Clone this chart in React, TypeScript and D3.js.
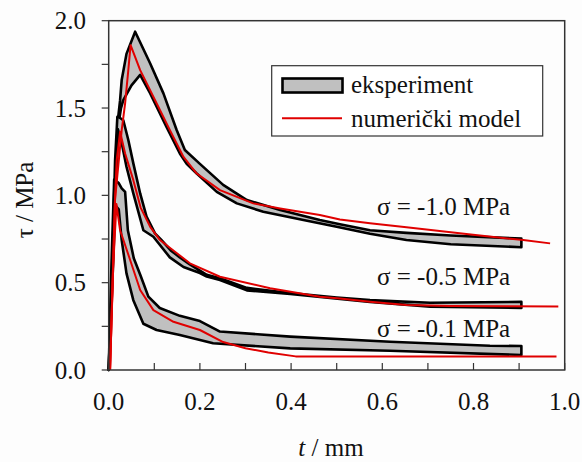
import React from 'react';
import * as d3 from 'd3';

type P = [number, number];

const W = 582, H = 462;
const PLOT = { left: 108.7, right: 564.7, top: 20.7, bottom: 370 };

const xMajorTicks = [0, 0.2, 0.4, 0.6, 0.8, 1.0];
const xMinorTicks = [0, 0.1, 0.2, 0.3, 0.4, 0.5, 0.6, 0.7, 0.8, 0.9, 1.0];
const yMajorTicks = [0, 0.5, 1.0, 1.5, 2.0];
const yMinorTicks = [0, 0.25, 0.5, 0.75, 1.0, 1.25, 1.5, 1.75, 2.0];

// experimental bands (upper and lower bounds)
const exp10Upper: P[] = [[0,0],[0.008,0.55],[0.016,1.1],[0.021,1.45],[0.025,1.545],[0.0285,1.66],[0.039,1.81],[0.058,1.937],[0.091,1.755],[0.12,1.584],[0.149,1.374],[0.167,1.26],[0.2,1.18],[0.251,1.06],[0.303,0.973],[0.376,0.916],[0.463,0.859],[0.507,0.835],[0.573,0.80],[0.653,0.785],[0.75,0.77],[0.905,0.752]];
const exp10Lower: P[] = [[0,0],[0.008,0.5],[0.016,1.05],[0.021,1.4],[0.027,1.5],[0.032,1.545],[0.05,1.63],[0.069,1.69],[0.091,1.584],[0.127,1.39],[0.156,1.24],[0.171,1.18],[0.193,1.125],[0.237,1.02],[0.281,0.954],[0.339,0.906],[0.427,0.859],[0.5,0.82],[0.573,0.78],[0.653,0.744],[0.75,0.72],[0.905,0.703]];

const exp05Upper: P[] = [[0,0],[0.008,0.6],[0.014,1.2],[0.019,1.45],[0.021,1.45],[0.032,1.43],[0.043,1.317],[0.054,1.183],[0.069,1.011],[0.083,0.878],[0.1015,0.782],[0.116,0.744],[0.136,0.685],[0.156,0.645],[0.178,0.605],[0.215,0.545],[0.244,0.525],[0.303,0.47],[0.398,0.44],[0.5,0.415],[0.573,0.40],[0.705,0.385],[0.905,0.39]];
const exp05Lower: P[] = [[0,0],[0.008,0.55],[0.014,1.1],[0.02,1.38],[0.0285,1.30],[0.039,1.164],[0.054,1.011],[0.076,0.80],[0.098,0.763],[0.134,0.645],[0.164,0.59],[0.2,0.555],[0.215,0.535],[0.244,0.515],[0.303,0.456],[0.398,0.435],[0.573,0.39],[0.705,0.363],[0.905,0.355]];

const exp01Upper: P[] = [[0,0],[0.006,0.6],[0.012,1.09],[0.022,1.07],[0.0285,1.04],[0.036,1.02],[0.042,0.80],[0.055,0.64],[0.07,0.54],[0.087,0.42],[0.112,0.355],[0.156,0.31],[0.2,0.28],[0.244,0.22],[0.398,0.191],[0.617,0.162],[0.836,0.139],[0.905,0.137]];
const exp01Lower: P[] = [[0,0],[0.006,0.5],[0.012,0.95],[0.022,0.92],[0.0285,0.744],[0.039,0.553],[0.054,0.40],[0.076,0.265],[0.105,0.229],[0.156,0.20],[0.229,0.153],[0.398,0.124],[0.617,0.11],[0.905,0.086]];

// numerical model
const model10: P[] = [[0.003,0],[0.0138,0.973],[0.0285,1.374],[0.036,1.527],[0.043,1.717],[0.048,1.86],[0.069,1.717],[0.105,1.527],[0.134,1.374],[0.164,1.22],[0.193,1.125],[0.244,1.03],[0.317,0.954],[0.376,0.925],[0.463,0.887],[0.507,0.862],[0.573,0.84],[0.653,0.818],[0.799,0.775],[0.909,0.744],[0.968,0.725]];
const model05: P[] = [[0.003,0],[0.014,0.99],[0.0175,1.2],[0.025,1.364],[0.036,1.24],[0.054,1.087],[0.07,0.93],[0.091,0.82],[0.1125,0.744],[0.134,0.70],[0.178,0.611],[0.244,0.534],[0.354,0.468],[0.463,0.42],[0.507,0.41],[0.573,0.391],[0.653,0.372],[0.75,0.366],[0.986,0.364]];
const model01: P[] = [[0.003,0],[0.01,0.6],[0.017,0.95],[0.025,0.80],[0.047,0.63],[0.069,0.458],[0.098,0.343],[0.142,0.276],[0.2,0.229],[0.251,0.16],[0.3,0.125],[0.35,0.10],[0.41,0.078],[0.982,0.078]];

const bands = [
  { upper: exp10Upper, lower: exp10Lower },
  { upper: exp05Upper, lower: exp05Lower },
  { upper: exp01Upper, lower: exp01Lower },
];
const models = [model10, model05, model01];

const sigmaLabels = ['σ = -1.0 MPa', 'σ = -0.5 MPa', 'σ = -0.1 MPa'];
const sigmaLabelPos: P[] = [[377, 215], [377, 285], [377, 337]];

const legendLabels = ['eksperiment', 'numerički model'];

const FONT = "'Liberation Serif', 'DejaVu Serif', serif";
const RED = '#e00000';

export default function App() {
  const x = d3.scaleLinear().domain([0, 1]).range([PLOT.left, PLOT.right]);
  const y = d3.scaleLinear().domain([0, 2]).range([PLOT.bottom, PLOT.top]);
  const line = d3.line<P>().x(d => x(d[0])).y(d => y(d[1]));
  const ts = { fontFamily: FONT };

  return (
    <svg width={W} height={H} style={{ position: 'absolute', left: 0, top: 0, background: '#fdfdfd', fontFamily: FONT }}>
      {bands.map((b, i) => (
        <path key={'b' + i}
          d={line([...b.upper, ...b.lower.slice().reverse()])! + 'Z'}
          fill="#c0c0c0" stroke="#000" strokeWidth={2.6} strokeLinejoin="round" />
      ))}
      {models.map((m, i) => (
        <path key={'m' + i} d={line(m)!} fill="none" stroke={RED} strokeWidth={2} strokeLinejoin="round" />
      ))}

      {/* frame */}
      <rect x={PLOT.left} y={PLOT.top} width={PLOT.right - PLOT.left} height={PLOT.bottom - PLOT.top}
        fill="none" stroke="#333" strokeWidth={1.5} />
      {xMinorTicks.map(t => (
        <line key={'xt' + t} x1={x(t)} x2={x(t)} y1={PLOT.bottom} y2={PLOT.bottom - 7} stroke="#333" strokeWidth={1.2} />
      ))}
      {yMinorTicks.map(t => (
        <line key={'yt' + t} x1={PLOT.left - 7} x2={PLOT.left} y1={y(t)} y2={y(t)} stroke="#333" strokeWidth={1.2} />
      ))}
      {xMajorTicks.map(t => (
        <text key={'xl' + t} style={ts} x={x(t)} y={410} fontSize={25} textAnchor="middle" fill="#111">{t.toFixed(1)}</text>
      ))}
      {yMajorTicks.map(t => (
        <text key={'yl' + t} style={ts} x={86} y={y(t) + 8.5} fontSize={25} textAnchor="end" fill="#111">{t.toFixed(1)}</text>
      ))}

      <text style={ts} x={331} y={456} fontSize={25} textAnchor="middle" fill="#111">
        <tspan fontStyle="italic">t</tspan> / mm
      </text>
      <text style={ts} transform={`translate(33,200) rotate(-90)`} fontSize={25} textAnchor="middle" fill="#111">τ / MPa</text>

      {sigmaLabels.map((s, i) => (
        <text key={'s' + i} style={ts} x={sigmaLabelPos[i][0]} y={sigmaLabelPos[i][1]} fontSize={25} fill="#111">{s}</text>
      ))}

      {/* legend */}
      <rect x={271.7} y={65.7} width={271} height={70.3} fill="#fff" stroke="#333" strokeWidth={1.2} />
      <rect x={282.5} y={78.5} width={60} height={14} fill="#c0c0c0" stroke="#000" strokeWidth={2.6} />
      <line x1={282} x2={342} y1={118.3} y2={118.3} stroke={RED} strokeWidth={2} />
      <text style={ts} x={351} y={93} fontSize={25} fill="#111">{legendLabels[0]}</text>
      <text style={ts} x={351} y={126.5} fontSize={25} fill="#111">{legendLabels[1]}</text>
    </svg>
  );
}
